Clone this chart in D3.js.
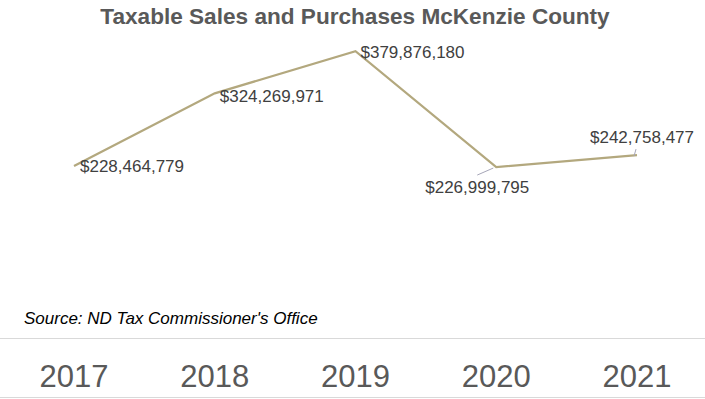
<!DOCTYPE html>
<html>
<head>
<meta charset="utf-8">
<script src="https://cdn.jsdelivr.net/npm/d3@7"></script>
<style>
  body { margin: 0; background: #fff; }
  svg { display: block; font-family: "Liberation Sans", Arial, sans-serif; }
</style>
</head>
<body>
<svg id="chart" width="705" height="399"></svg>
<script>
// data
var years = ["2017", "2018", "2019", "2020", "2021"];
var sales = [228464779, 324269971, 379876180, 226999795, 242758477];

var width = 705, height = 399;
var svg = d3.select("#chart");

var x = d3.scalePoint()
  .domain(years)
  .range([74, 637]);

var y = d3.scaleLinear()
  .domain([0, 400000000])
  .range([339, 36]);

var fmt = function (d) { return "$" + d3.format(",")(d); };

// title
svg.append("text")
  .attr("x", 355)
  .attr("y", 24)
  .attr("text-anchor", "middle")
  .attr("font-size", 22.6)
  .attr("font-weight", "bold")
  .attr("fill", "#595959")
  .text("Taxable Sales and Purchases McKenzie County");

var pts = years.map(function (yr, i) { return { year: yr, value: sales[i] }; });

var line = d3.line()
  .x(function (d) { return x(d.year); })
  .y(function (d) { return y(d.value); });

svg.append("path")
  .datum(pts)
  .attr("fill", "none")
  .attr("stroke", "#b3a87e")
  .attr("stroke-width", 2.25)
  .attr("d", line);

// label offsets relative to point (text anchor start, baseline)
var labelOff = [[6, 6], [5, 9], [5, 7], [-71, 26], [-47, -12]];

// leader lines for the two moved labels
var leaders = [null, null, null, [-19, 8], [-1, -6]];
svg.append("g").selectAll("line")
  .data(pts.filter(function (d, i) { return leaders[i]; }))
  .enter().append("line")
  .attr("x1", function (d) { return x(d.year) - 3; })
  .attr("y1", function (d) { return y(d.value) + 1; })
  .attr("x2", function (d) { var i = years.indexOf(d.year); return x(d.year) + leaders[i][0]; })
  .attr("y2", function (d) { var i = years.indexOf(d.year); return y(d.value) + leaders[i][1]; })
  .attr("stroke", "#a6a6b8")
  .attr("stroke-width", 1);

svg.append("g").selectAll("text")
  .data(pts)
  .enter().append("text")
  .attr("x", function (d, i) { return x(d.year) + labelOff[i][0]; })
  .attr("y", function (d, i) { return y(d.value) + labelOff[i][1]; })
  .attr("font-size", 17)
  .attr("fill", "#404040")
  .text(function (d) { return fmt(d.value); });

// source
svg.append("text")
  .attr("x", 24)
  .attr("y", 324)
  .attr("font-size", 17)
  .attr("font-style", "italic")
  .attr("fill", "#000")
  .text("Source: ND Tax Commissioner's Office");

// category axis
svg.append("line")
  .attr("x1", 0).attr("x2", width)
  .attr("y1", 338.5).attr("y2", 338.5)
  .attr("stroke", "#d9d9d9");
svg.append("line")
  .attr("x1", 0).attr("x2", width)
  .attr("y1", 397.5).attr("y2", 397.5)
  .attr("stroke", "#d9d9d9");

svg.append("g").selectAll("text")
  .data(years)
  .enter().append("text")
  .attr("x", function (d) { return x(d); })
  .attr("y", 387)
  .attr("text-anchor", "middle")
  .attr("font-size", 31)
  .attr("fill", "#595959")
  .text(function (d) { return d; });
</script>
</body>
</html>
